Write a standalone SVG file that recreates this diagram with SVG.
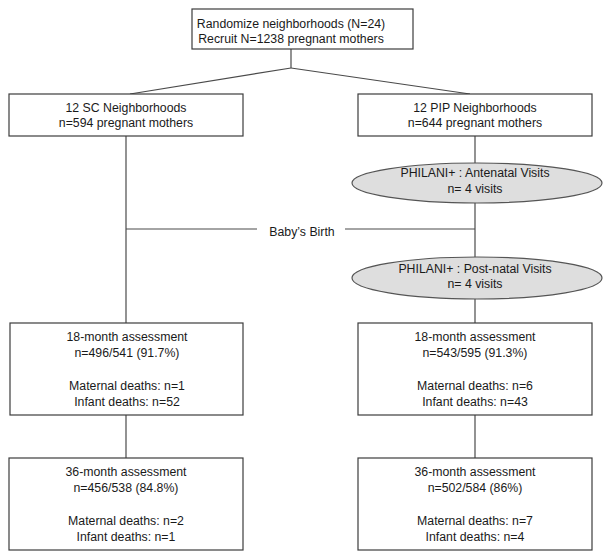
<svg xmlns="http://www.w3.org/2000/svg" width="610" height="560" viewBox="0 0 610 560">
<style>
.box{fill:#fff;stroke:#3c3c3c;stroke-width:1.2}
.ell{fill:#dedede;stroke:#555;stroke-width:1.2}
.ln{stroke:#4a4a4a;stroke-width:1.2;fill:none}
text{font-family:"Liberation Sans",Arial,sans-serif;font-size:12.3px;fill:#1a1a1a;text-anchor:middle}
</style>
<rect width="610" height="560" fill="#fff"/>
<g id="connectors">
<line class="ln" x1="291" y1="49" x2="291" y2="68"/>
<line class="ln" x1="291" y1="68" x2="130" y2="94"/>
<line class="ln" x1="291" y1="68" x2="470" y2="94"/>
<line class="ln" x1="126" y1="136" x2="126" y2="323"/>
<line class="ln" x1="475" y1="136" x2="475" y2="163"/>
<line class="ln" x1="475" y1="203" x2="475" y2="257"/>
<line class="ln" x1="475" y1="299" x2="475" y2="323"/>
<line class="ln" x1="126" y1="229" x2="257" y2="229"/>
<line class="ln" x1="345" y1="229" x2="475" y2="229"/>
<line class="ln" x1="126" y1="415" x2="126" y2="458"/>
<line class="ln" x1="475" y1="415" x2="475" y2="458"/>
</g>
<g id="birth">
<text x="302" y="236">Baby’s Birth</text>
</g>
<g id="randomize">
<rect class="box" x="192" y="9" width="221" height="40"/>
<text x="291" y="28">Randomize neighborhoods (N=24)</text>
<text x="291" y="43">Recruit N=1238 pregnant mothers</text>
</g>
<g id="sc">
<rect class="box" x="9" y="94" width="234" height="42"/>
<text x="126" y="112">12 SC Neighborhoods</text>
<text x="126" y="127">n=594 pregnant mothers</text>
</g>
<g id="pip">
<rect class="box" x="358" y="94" width="234" height="42"/>
<text x="475" y="112">12 PIP Neighborhoods</text>
<text x="475" y="127">n=644 pregnant mothers</text>
</g>
<g id="antenatal">
<ellipse class="ell" cx="477" cy="183" rx="125" ry="20"/>
<text x="475" y="177">PHILANI+ : Antenatal Visits</text>
<text x="475" y="193">n= 4 visits</text>
</g>
<g id="postnatal">
<ellipse class="ell" cx="477" cy="278" rx="125" ry="21"/>
<text x="475" y="273">PHILANI+ : Post-natal Visits</text>
<text x="475" y="288">n= 4 visits</text>
</g>
<g id="sc18">
<rect class="box" x="10" y="323" width="233" height="92"/>
<text x="127" y="341">18-month assessment</text>
<text x="127" y="357">n=496/541 (91.7%)</text>
<text x="127" y="390">Maternal deaths: n=1</text>
<text x="127" y="406">Infant deaths: n=52</text>
</g>
<g id="pip18">
<rect class="box" x="358" y="323" width="234" height="92"/>
<text x="475" y="341">18-month assessment</text>
<text x="475" y="357">n=543/595 (91.3%)</text>
<text x="475" y="390">Maternal deaths: n=6</text>
<text x="475" y="406">Infant deaths: n=43</text>
</g>
<g id="sc36">
<rect class="box" x="9" y="458" width="234" height="92"/>
<text x="126" y="476">36-month assessment</text>
<text x="126" y="492">n=456/538 (84.8%)</text>
<text x="126" y="525">Maternal deaths: n=2</text>
<text x="126" y="541">Infant deaths: n=1</text>
</g>
<g id="pip36">
<rect class="box" x="358" y="458" width="234" height="92"/>
<text x="475" y="476">36-month assessment</text>
<text x="475" y="492">n=502/584 (86%)</text>
<text x="475" y="525">Maternal deaths: n=7</text>
<text x="475" y="541">Infant deaths: n=4</text>
</g>
</svg>
